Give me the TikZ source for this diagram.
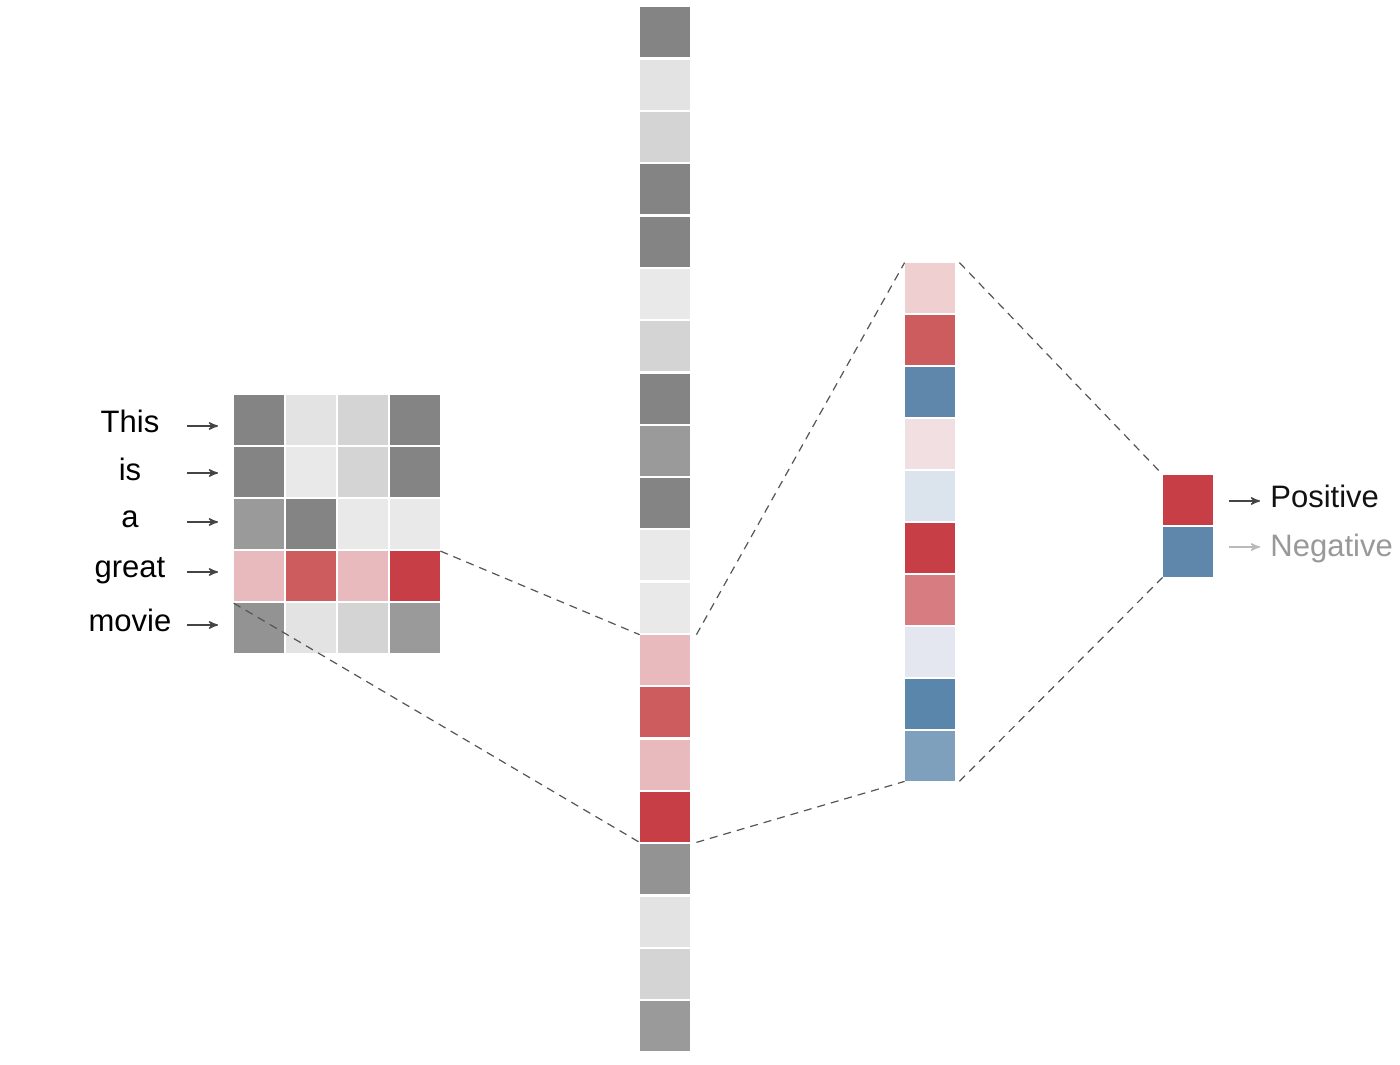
\documentclass[tikz,border=0pt]{standalone}
\usepackage{fontspec}
\setmainfont{Liberation Sans}
\usetikzlibrary{arrows}

\definecolor{shD}{HTML}{848484}
\definecolor{shM}{HTML}{9A9A9A}
\definecolor{shN}{HTML}{939393}
\definecolor{shL}{HTML}{D4D4D4}
\definecolor{shXL}{HTML}{E3E3E3}
\definecolor{shW}{HTML}{E9E9E9}
\definecolor{pinkA}{HTML}{E9BABD}
\definecolor{pinkB}{HTML}{F0CFD1}
\definecolor{pinkC}{HTML}{F2DFE1}
\definecolor{redA}{HTML}{CD5C5E}
\definecolor{redB}{HTML}{C73E46}
\definecolor{redC}{HTML}{D77C80}
\definecolor{blueA}{HTML}{5F86AB}
\definecolor{blueB}{HTML}{5B86AB}
\definecolor{blueC}{HTML}{7FA0BD}
\definecolor{blueL}{HTML}{DBE4ED}
\definecolor{lav}{HTML}{E5E7F0}
\definecolor{linegray}{HTML}{555555}
\definecolor{arrowgray}{HTML}{444444}

\begin{document}
\begin{tikzpicture}[x=0.5pt,y=0.5pt,>=stealth',node distance=26pt,
  cell/.style={rectangle,minimum size=25pt,inner sep=0pt},
  word/.style={anchor=base,inner sep=0pt,font=\fontsize{15.5}{18}\selectfont},
  link/.style={draw=linegray,line width=0.6pt,dash pattern=on 4pt off 3pt},
  tok/.style={->,draw=arrowgray,line width=0.7pt}]
  \fill[white] (0,0) rectangle (1400,1064);
  \useasboundingbox (0,0) rectangle (1400,1064);

  % words
  \node[word] (w1) at (130,631) {This};
  \node[word] (w2) at (130,583) {is};
  \node[word] (w3) at (130,536) {a};
  \node[word] (w4) at (130,486) {great};
  \node[word] (w5) at (130,432) {movie};

  % sentence matrix
  \node[cell,fill=shD]   (g11) at (259,643.5) {};
  \node[cell,fill=shXL]  (g12) [right of=g11] {};
  \node[cell,fill=shL]   (g13) [right of=g12] {};
  \node[cell,fill=shD]   (g14) [right of=g13] {};
  \node[cell,fill=shD]   (g21) [below of=g11] {};
  \node[cell,fill=shW]   (g22) [right of=g21] {};
  \node[cell,fill=shL]   (g23) [right of=g22] {};
  \node[cell,fill=shD]   (g24) [right of=g23] {};
  \node[cell,fill=shM]   (g31) [below of=g21] {};
  \node[cell,fill=shD]   (g32) [right of=g31] {};
  \node[cell,fill=shW]   (g33) [right of=g32] {};
  \node[cell,fill=shW]   (g34) [right of=g33] {};
  \node[cell,fill=pinkA] (g41) [below of=g31] {};
  \node[cell,fill=redA]  (g42) [right of=g41] {};
  \node[cell,fill=pinkA] (g43) [right of=g42] {};
  \node[cell,fill=redB]  (g44) [right of=g43] {};
  \node[cell,fill=shN]   (g51) [below of=g41] {};
  \node[cell,fill=shXL]  (g52) [right of=g51] {};
  \node[cell,fill=shL]   (g53) [right of=g52] {};
  \node[cell,fill=shM]   (g54) [right of=g53] {};

  \draw[tok] ([shift={(28.5pt,3.5pt)}]w1.base) -- ([shift={(44pt,3.5pt)}]w1.base);
  \draw[tok] ([shift={(28.5pt,4pt)}]w2.base) -- ([shift={(44pt,4pt)}]w2.base);
  \draw[tok] ([shift={(28.5pt,3pt)}]w3.base) -- ([shift={(44pt,3pt)}]w3.base);
  \draw[tok] ([shift={(28.5pt,3pt)}]w4.base) -- ([shift={(44pt,3pt)}]w4.base);
  \draw[tok] ([shift={(28.5pt,3.5pt)}]w5.base) -- ([shift={(44pt,3.5pt)}]w5.base);

  % flattened vector
  \begin{scope}[node distance=26.15pt]
  \node[cell,fill=shD]   (m1)  at (665,1031.5) {};
  \node[cell,fill=shXL]  (m2)  [below of=m1]  {};
  \node[cell,fill=shL]   (m3)  [below of=m2]  {};
  \node[cell,fill=shD]   (m4)  [below of=m3]  {};
  \node[cell,fill=shD]   (m5)  [below of=m4]  {};
  \node[cell,fill=shW]   (m6)  [below of=m5]  {};
  \node[cell,fill=shL]   (m7)  [below of=m6]  {};
  \node[cell,fill=shD]   (m8)  [below of=m7]  {};
  \node[cell,fill=shM]   (m9)  [below of=m8]  {};
  \node[cell,fill=shD]   (m10) [below of=m9]  {};
  \node[cell,fill=shW]   (m11) [below of=m10] {};
  \node[cell,fill=shW]   (m12) [below of=m11] {};
  \node[cell,fill=pinkA] (m13) [below of=m12] {};
  \node[cell,fill=redA]  (m14) [below of=m13] {};
  \node[cell,fill=pinkA] (m15) [below of=m14] {};
  \node[cell,fill=redB]  (m16) [below of=m15] {};
  \node[cell,fill=shN]   (m17) [below of=m16] {};
  \node[cell,fill=shXL]  (m18) [below of=m17] {};
  \node[cell,fill=shL]   (m19) [below of=m18] {};
  \node[cell,fill=shM]   (m20) [below of=m19] {};
  \end{scope}

  % hidden layer
  \node[cell,fill=pinkB] (r1)  at (930,776)   {};
  \node[cell,fill=redA]  (r2)  [below of=r1]  {};
  \node[cell,fill=blueA] (r3)  [below of=r2]  {};
  \node[cell,fill=pinkC] (r4)  [below of=r3]  {};
  \node[cell,fill=blueL] (r5)  [below of=r4]  {};
  \node[cell,fill=redB]  (r6)  [below of=r5]  {};
  \node[cell,fill=redC]  (r7)  [below of=r6]  {};
  \node[cell,fill=lav]   (r8)  [below of=r7]  {};
  \node[cell,fill=blueB] (r9)  [below of=r8]  {};
  \node[cell,fill=blueC] (r10) [below of=r9]  {};

  % output
  \node[cell,fill=redB]  (o1) at (1188,564) {};
  \node[cell,fill=blueA] (o2) [below of=o1] {};
  \node[word,anchor=base west,text=black!93] (pos) at (1270,556) {Positive};
  \node[word,anchor=base west,text=black!40] (neg) at (1270,507) {Negative};
  \draw[tok] ([shift={(-20.5pt,3.5pt)}]pos.base west) -- ([shift={(-5pt,3.5pt)}]pos.base west);
  \draw[tok,draw=black!27] ([shift={(-20.5pt,5pt)}]neg.base west) -- ([shift={(-5pt,5pt)}]neg.base west);

  % zoom lines
  \draw[link] (g44.north east) -- (m13.north west);
  \draw[link] (g51.north west) -- (m16.south west);
  \draw[link] ([xshift=3pt]m13.north east) -- (r1.north west);
  \draw[link] ([xshift=3pt]m16.south east) -- (r10.south west);
  \draw[link] ([xshift=2pt]r1.north east) -- (o1.north west);
  \draw[link] ([xshift=2pt]r10.south east) -- (o2.south west);
\end{tikzpicture}
\end{document}
